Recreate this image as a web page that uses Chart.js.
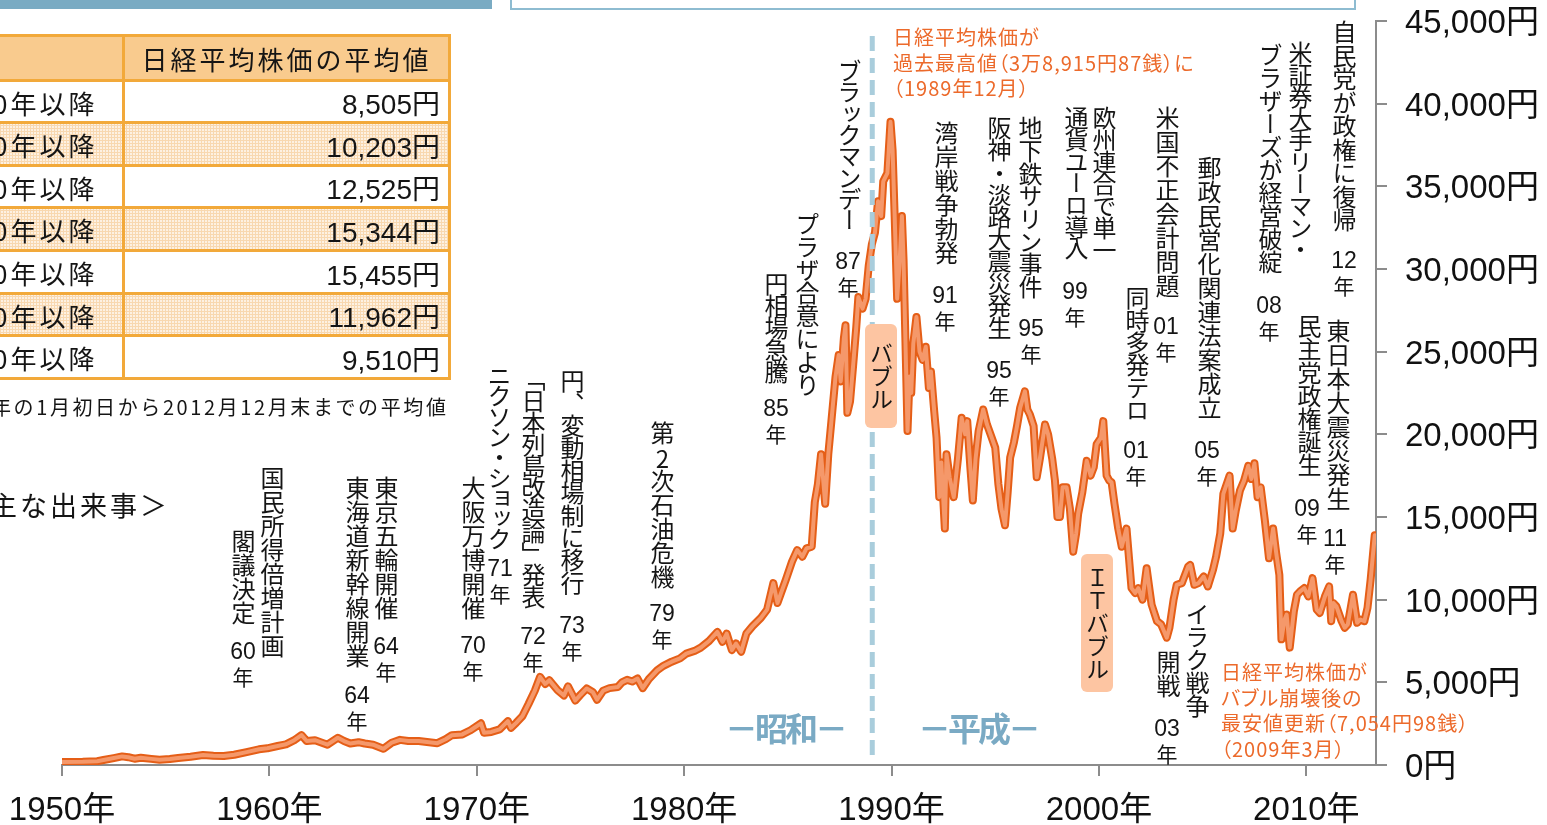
<!DOCTYPE html>
<html lang="ja">
<head>
<meta charset="utf-8">
<title>日経平均株価の推移</title>
<script src="https://cdn.jsdelivr.net/npm/chart.js@4.4.1/dist/chart.umd.min.js"></script>
<style>
html, body { margin: 0; padding: 0; background: #fff; }
body { width: 1547px; height: 825px; overflow: hidden; position: relative; font-family: "Noto Sans CJK JP", sans-serif; color: #151515; }
canvas { position: absolute; left: 0; top: 0; }
.abs { position: absolute; white-space: nowrap; }
.v { position: absolute; writing-mode: vertical-rl; font-size: 24px; line-height: 24px; white-space: nowrap; }
.tcu { text-combine-upright: all; }
.yr { position: absolute; width: 44px; text-align: center; font-family: "Liberation Sans", "Noto Sans CJK JP", sans-serif; font-size: 23px; line-height: 25px; }
.yr span { font-family: "Noto Sans CJK JP", sans-serif; font-size: 21px; }
.orange { color: #ec6a2b; font-size: 20px; line-height: 25.5px; letter-spacing: 1px; font-feature-settings: "palt"; }
.era { color: #7aaac4; font-size: 33px; font-weight: bold; line-height: 36px; letter-spacing: -3px; }
.box { position: absolute; background: #fdc5a2; border-radius: 6px; display: flex; align-items: center; justify-content: center; }
.box div { writing-mode: vertical-rl; font-size: 23px; line-height: 23px; letter-spacing: 0px; }
.hl { position: absolute; background: #f2a93a; height: 3px; }
.vl { position: absolute; background: #f2a93a; width: 3px; }
.cell { position: absolute; font-size: 26px; letter-spacing: 3px; display: flex; align-items: center; }
.val { position: absolute; font-family: "Liberation Sans", "Noto Sans CJK JP", sans-serif; font-size: 28px; display: flex; align-items: center; justify-content: flex-end; }
.dots { background-color: #fdf1e2; background-image: linear-gradient(#f8d8b0 1px, transparent 1px), linear-gradient(90deg, #f8d8b0 1px, transparent 1px); background-size: 3px 3px; }
</style>
</head>
<body>
<canvas id="chart" width="1547" height="825"></canvas>
<div id="overlay"></div>
<script>
// 日経平均株価（月次の目安）
const nikkeiYears = [
  1950.0, 1951.0, 1951.7, 1952.0, 1952.5, 1952.9, 1953.2, 1953.5, 1953.8, 1954.3,
  1954.7, 1955.2, 1955.6, 1956.2, 1956.8, 1957.3, 1957.8, 1958.3, 1958.9, 1959.5,
  1959.9, 1960.4, 1960.8, 1961.2, 1961.55, 1961.8, 1962.2, 1962.8, 1963.3, 1963.6,
  1963.9, 1964.3, 1964.6, 1965.0, 1965.5, 1965.9, 1966.3, 1966.7, 1967.2, 1967.7,
  1968.1, 1968.5, 1968.8, 1969.3, 1969.7, 1970.2, 1970.35, 1970.7, 1971.1, 1971.5,
  1971.65, 1971.9, 1972.2, 1972.5, 1972.8, 1973.05, 1973.3, 1973.5, 1973.9, 1974.2,
  1974.4, 1974.75, 1975.0, 1975.3, 1975.6, 1975.8, 1976.1, 1976.4, 1976.8, 1977.0,
  1977.25, 1977.5, 1977.75, 1978.0, 1978.3, 1978.7, 1979.0, 1979.4, 1979.8, 1980.1,
  1980.5, 1980.8, 1981.2, 1981.6, 1981.85, 1982.05, 1982.3, 1982.5, 1982.75, 1983.0,
  1983.3, 1983.7, 1984.0, 1984.3, 1984.5, 1984.7, 1984.9, 1985.2, 1985.45, 1985.7,
  1985.9, 1986.15, 1986.3, 1986.45, 1986.6, 1986.8, 1986.95, 1987.1, 1987.3, 1987.45,
  1987.55, 1987.7, 1987.78, 1987.87, 1988.0, 1988.15, 1988.3, 1988.4, 1988.6, 1988.75,
  1988.9, 1989.05, 1989.2, 1989.35, 1989.5, 1989.6, 1989.8, 1989.95, 1990.05, 1990.15,
  1990.27, 1990.38, 1990.5, 1990.58, 1990.7, 1990.77, 1990.87, 1990.95, 1991.05, 1991.2,
  1991.35, 1991.5, 1991.65, 1991.8, 1991.9, 1992.05, 1992.17, 1992.3, 1992.4, 1992.57,
  1992.65, 1992.8, 1993.0, 1993.2, 1993.38, 1993.55, 1993.65, 1993.8, 1993.92, 1994.05,
  1994.2, 1994.42, 1994.6, 1994.83, 1995.0, 1995.15, 1995.3, 1995.47, 1995.6, 1995.72,
  1995.9, 1996.05, 1996.2, 1996.43, 1996.55, 1996.67, 1996.85, 1997.0, 1997.15, 1997.4,
  1997.55, 1997.75, 1997.88, 1998.0, 1998.12, 1998.25, 1998.44, 1998.6, 1998.76, 1998.9,
  1999.0, 1999.2, 1999.41, 1999.6, 1999.75, 1999.89, 2000.1, 2000.21, 2000.37, 2000.5,
  2000.61, 2000.75, 2000.93, 2001.1, 2001.33, 2001.45, 2001.57, 2001.75, 2001.9, 2002.1,
  2002.3, 2002.45, 2002.54, 2002.8, 2003.0, 2003.27, 2003.4, 2003.6, 2003.75, 2004.0,
  2004.3, 2004.4, 2004.6, 2004.8, 2005.05, 2005.25, 2005.5, 2005.65, 2005.85, 2006.0,
  2006.3, 2006.45, 2006.6, 2006.8, 2007.0, 2007.2, 2007.35, 2007.5, 2007.65, 2007.8,
  2008.0, 2008.2, 2008.4, 2008.55, 2008.7, 2008.8, 2008.95, 2009.05, 2009.2, 2009.4,
  2009.55, 2009.7, 2009.9, 2010.1, 2010.3, 2010.5, 2010.65, 2010.9, 2011.1, 2011.2,
  2011.3, 2011.45, 2011.7, 2011.85, 2012.0, 2012.25, 2012.45, 2012.6, 2012.8, 2012.95,
  2013.1, 2013.3
];
const nikkeiValues = [
  180, 190, 230, 300, 420, 520, 470, 380, 440, 370,
  320, 360, 420, 500, 600, 560, 540, 620, 780, 950,
  1010, 1150, 1250, 1500, 1810, 1450, 1500, 1230, 1650, 1450,
  1300, 1380, 1300, 1230, 980, 1350, 1520, 1450, 1450, 1380,
  1320, 1560, 1800, 1850, 2100, 2520, 1950, 2000, 2150, 2650,
  2250, 2550, 2950, 3700, 4500, 5330, 4900, 5130, 4520, 4200,
  4760, 3900, 4250, 4630, 4400, 3950, 4500, 4650, 4720, 5000,
  5150, 5050, 5230, 4650, 5200, 5730, 6000, 6250, 6450, 6740,
  6900, 7100, 7500, 8050, 7450, 7950, 6950, 7350, 6850, 7950,
  8400, 8900, 9400, 11000, 9800, 10500, 11200, 12300, 13000, 12600,
  13100, 13200, 15900, 17000, 18800, 15800, 18800, 20800, 23500, 24800,
  23200, 25800, 26600, 21300, 22000, 24200, 26500, 28300, 27600, 28200,
  30200, 31500, 32200, 34100, 33200, 35300, 35800, 38900, 37200, 33200,
  28200, 30200, 33200, 30500, 24000, 20200, 23500, 22500, 25500, 27100,
  25000, 24500, 25300, 22800, 23800, 21500, 19800, 16200, 18300, 14300,
  18800, 17400, 16200, 18500, 21000, 20000, 20800, 18000, 16000, 18500,
  20200, 21500, 20600, 19800, 19200, 17000, 15500, 14500, 16500, 18600,
  19500, 20500, 21600, 22600, 21500, 21200, 20500, 17400, 18500, 20600,
  20000, 18500, 17200, 15000, 15000, 16800, 16800, 15500, 12900, 14000,
  15200, 16500, 18400, 17500, 18000, 19400, 19800, 20800, 17500, 17200,
  17100, 15800, 14300, 13200, 14300, 12500, 10700, 10400, 10700, 10000,
  11900, 10500, 9700, 8700, 8500, 7700, 8300, 10000, 10900, 11000,
  12000, 12100, 10900, 11000, 11400, 10800, 11800, 12600, 14000, 16400,
  17500, 14300, 15400, 16600, 17200, 18100, 17300, 18250, 16200, 16800,
  14800, 12500, 14300, 12800, 11500, 7600, 8800, 9100, 7100, 9300,
  10300, 10500, 10700, 10200, 11300, 9400, 9200, 10200, 10800, 8700,
  9800, 9600, 8700, 8300, 8500, 10300, 8600, 8800, 8700, 9500,
  11200, 13900
];

const xTickYears = [1950, 1960, 1970, 1980, 1990, 2000, 2010];
const yTickValues = [0, 5000, 10000, 15000, 20000, 25000, 30000, 35000, 40000, 45000];
const xMin = 1950, xMax = 2013.36;
const yMin = 0, yMax = 45000;

// 昭和から平成へ（1989年1月）
const eraChangeYear = 1989.07;
const eraLineValues = [600, 44150];

const tableHeader = "日経平均株価の平均値";
const tableLabels = ["0年以降", "0年以降", "0年以降", "0年以降", "0年以降", "0年以降", "0年以降"];
const tableAverages = ["8,505円", "10,203円", "12,525円", "15,344円", "15,455円", "11,962円", "9,510円"];

const series = nikkeiYears.map((y, i) => ({ x: y, y: nikkeiValues[i] }));
const eraLine = eraLineValues.map(v => ({ x: eraChangeYear, y: v }));

const tickFont = { size: 33, family: "'Liberation Sans', 'Noto Sans CJK JP', sans-serif" };
const axisGray = '#8c8c8c';

new Chart(document.getElementById('chart'), {
  type: 'line',
  data: {
    datasets: [
      { data: eraLine, borderColor: '#a9cddc', borderWidth: 5, borderDash: [15, 7], pointRadius: 0 },
      { data: series, borderColor: '#f5986a', borderWidth: 4, pointRadius: 0, tension: 0, borderJoinStyle: 'round', borderCapStyle: 'round' },
      { data: series, borderColor: '#e55e17', borderWidth: 8, pointRadius: 0, tension: 0, borderJoinStyle: 'round', borderCapStyle: 'round' }
    ]
  },
  options: {
    responsive: false,
    animation: false,
    events: [],
    layout: { padding: { left: 62, top: 21, right: 0, bottom: 0 } },
    plugins: { legend: { display: false }, tooltip: { enabled: false } },
    scales: {
      x: {
        type: 'linear', min: xMin, max: xMax,
        afterBuildTicks: s => { s.ticks = xTickYears.map(v => ({ value: v })); },
        afterFit: s => { s.paddingLeft = 0; s.paddingRight = 0; s.height = 60; },
        ticks: { callback: v => v + '年', font: tickFont, color: '#111', padding: 15, maxRotation: 0, autoSkip: false },
        grid: { drawOnChartArea: false, color: axisGray, lineWidth: 2, tickLength: 11 },
        border: { color: axisGray, width: 2 }
      },
      y: {
        position: 'right', min: yMin, max: yMax,
        afterBuildTicks: s => { s.ticks = yTickValues.map(v => ({ value: v })); },
        afterFit: s => { s.paddingTop = 0; s.paddingBottom = 0; s.width = 171; },
        ticks: { callback: v => v.toLocaleString('en-US') + '円', font: tickFont, color: '#111', padding: 18, labelOffset: 3, autoSkip: false },
        grid: { drawOnChartArea: false, color: axisGray, lineWidth: 2, tickLength: 11 },
        border: { color: axisGray, width: 2 }
      }
    }
  }
});

// ---- overlay text ----
const ov = document.getElementById('overlay');
function add(cls, html, css) {
  const d = document.createElement('div');
  d.className = cls;
  d.innerHTML = html;
  Object.assign(d.style, css);
  ov.appendChild(d);
  return d;
}

// top frames
add('abs', '', { left: '0px', top: '0px', width: '492px', height: '9px', background: '#7aabc3' });
add('abs', '', { left: '510px', top: '-12px', width: '846px', height: '22px', border: '2px solid #8ebcd1', boxSizing: 'border-box' });

// table
const rowLines = [35, 80, 122, 165, 207, 250, 293, 335, 378];
add('abs', '', { left: '0px', top: rowLines[0] + 'px', width: '450px', height: (rowLines[1] - rowLines[0]) + 'px', background: '#f9cb8e' });
tableLabels.forEach((t, i) => {
  const top = rowLines[i + 1], h = rowLines[i + 2] - rowLines[i + 1];
  if (i % 2 === 1) add('abs dots', '', { left: '0px', top: top + 'px', width: '450px', height: h + 'px' });
  add('cell', t, { left: '-7px', top: (top + 1) + 'px', height: h + 'px' });
  add('val', tableAverages[i], { left: '130px', width: '310px', top: (top + 1) + 'px', height: h + 'px' });
});
add('cell', tableHeader, { left: '123px', width: '327px', top: (rowLines[0] + 1) + 'px', height: (rowLines[1] - rowLines[0]) + 'px', justifyContent: 'center' });
rowLines.forEach(y => add('hl', '', { left: '0px', top: (y - 1.5) + 'px', width: '451px' }));
add('vl', '', { left: '121.5px', top: '34px', height: '346px' });
add('vl', '', { left: '447.5px', top: '34px', height: '346px' });
add('abs', '年の1月初日から2012月12月末までの平均値', { left: '-9px', top: '393px', fontSize: '20px', letterSpacing: '2.6px', lineHeight: '28px' });

add('abs', '主な出来事＞', { left: '-10px', top: '487px', fontSize: '27px', letterSpacing: '3px', lineHeight: '36px' });

// vertical event columns: [text, center x, top y, letter spacing]
const eventCols = [
  ['国民所得倍増計画', 272, 467, 0], ['閣議決定', 243, 530, 0],
  ['東海道新幹線開業', 357, 477, 0], ['東京五輪開催', 386, 477, 0],
  ['大阪万博開催', 473, 477, 0], ['ニクソン・ショック', 499, 365, -3.7],
  ['「日本列島改造論」発表', 533, 368, -2.2], ['円、変動相場制に移行', 572, 370, -1.6],
  ['第<span class="tcu">2</span>次石油危機', 662, 422, 0],
  ['円相場急騰', 776, 273, -2], ['プラザ合意により', 807, 213, -1],
  ['ブラックマンデー', 849, 60, -2.7], ['湾岸戦争勃発', 946, 122, 0],
  ['阪神・淡路大震災発生', 999, 117, -1.8], ['地下鉄サリン事件', 1030, 117, -1.3],
  ['通貨ユーロ導入', 1076, 107, -2.3], ['欧州連合で単一', 1104, 107, -2],
  ['同時多発テロ', 1137, 287, -1.6], ['米国不正会計問題', 1167, 107, 0],
  ['郵政民営化関連法案成立', 1209, 157, 0], ['ブラザーズが経営破綻', 1270, 44, -1],
  ['米証券大手リーマン・', 1300, 42, -2.2], ['自民党が政権に復帰', 1344, 21, -0.5],
  ['民主党政権誕生', 1309, 315, -0.8], ['東日本大震災発生', 1338, 320, 0],
  ['イラク戦争', 1197, 603, -1], ['開戦', 1168, 651, 0]
];
eventCols.forEach(([t, x, y, ls]) => add('v', t, { left: (x - 12) + 'px', top: (y - 1) + 'px', letterSpacing: ls + 'px' }));

// year labels: [digits, center x, digits top]
const eventYears = [
  ['60', 243, 643], ['64', 357, 687], ['64', 386, 638], ['70', 473, 637],
  ['71', 500, 560], ['72', 533, 628], ['73', 572, 617], ['79', 662, 605],
  ['85', 776, 400], ['87', 848, 253], ['91', 945, 287], ['95', 999, 362],
  ['95', 1031, 320], ['99', 1075, 283], ['01', 1166, 318], ['01', 1136, 442],
  ['05', 1207, 442], ['08', 1269, 297], ['12', 1344, 252], ['09', 1307, 500],
  ['11', 1335, 530], ['03', 1167, 720]
];
eventYears.forEach(([t, x, y]) => add('yr', t + '<br><span>年</span>', { left: (x - 22) + 'px', top: (y - 4) + 'px' }));

// bubble boxes
add('box', '<div>バブル</div>', { left: '865px', top: '324px', width: '32px', height: '104px' });
add('box', '<div>ＩＴバブル</div>', { left: '1081px', top: '554px', width: '32px', height: '138px' });

// era labels
add('abs era', '－昭和－', { left: '725px', top: '709px' });
add('abs era', '－平成－', { left: '918px', top: '709px' });

// orange notes
add('abs orange', '日経平均株価が<br>過去最高値（3万8,915円87銭）に<br>（1989年12月）', { left: '893px', top: '24px' });
add('abs orange', '日経平均株価が<br>バブル崩壊後の<br>最安値更新（7,054円98銭）<br>（2009年3月）', { left: '1221px', top: '659px' });
</script>
</body>
</html>
